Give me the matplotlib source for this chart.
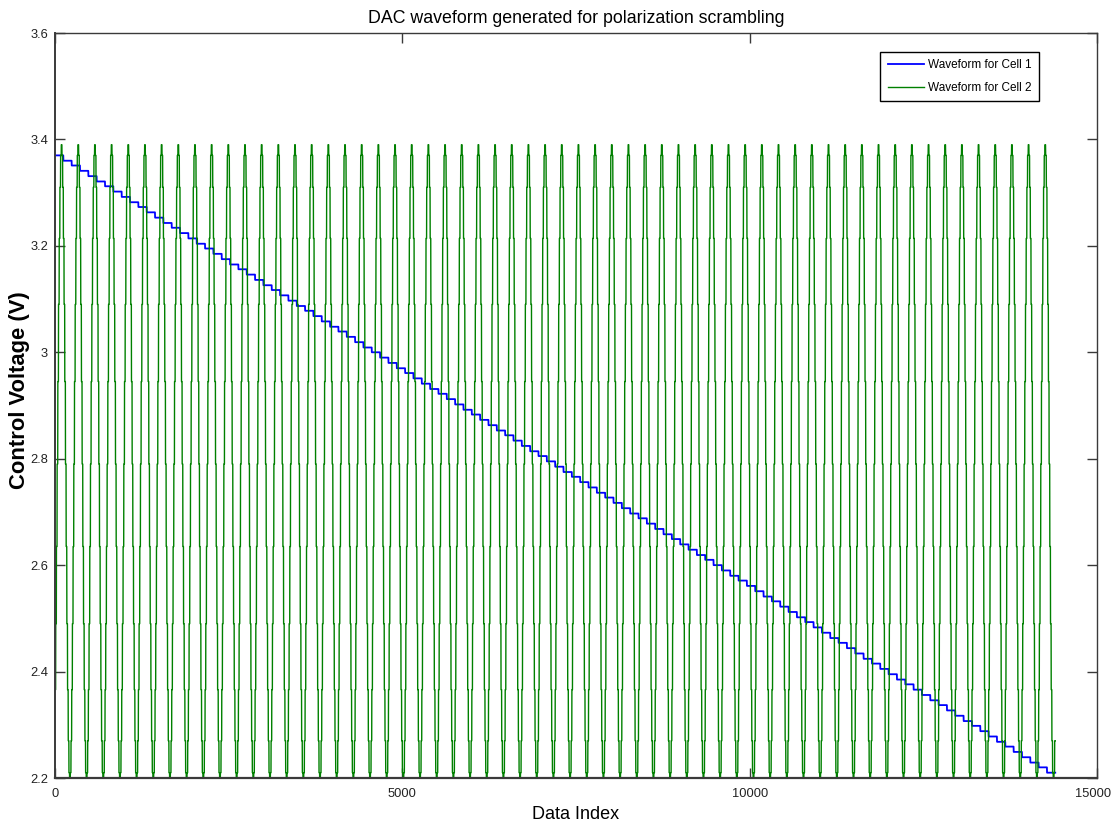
import numpy as np
import matplotlib
matplotlib.use("Agg")
import matplotlib.pyplot as plt
from matplotlib.ticker import FuncFormatter

# ---------------- data ----------------
# Cell 1: descending DAC staircase, one level per block of samples
cell1_levels = [
    3.370, 3.360, 3.351, 3.341, 3.331, 3.321, 3.312, 3.302, 3.292, 3.282,
    3.273, 3.263, 3.253, 3.243, 3.234, 3.224, 3.214, 3.204, 3.195, 3.185,
    3.175, 3.165, 3.156, 3.146, 3.136, 3.126, 3.117, 3.107, 3.097, 3.087,
    3.078, 3.068, 3.058, 3.048, 3.039, 3.029, 3.019, 3.009, 3.000, 2.990,
    2.980, 2.970, 2.961, 2.951, 2.941, 2.931, 2.922, 2.912, 2.902, 2.892,
    2.883, 2.873, 2.863, 2.853, 2.844, 2.834, 2.824, 2.814, 2.805, 2.795,
    2.785, 2.775, 2.766, 2.756, 2.746, 2.736, 2.727, 2.717, 2.707, 2.697,
    2.688, 2.678, 2.668, 2.658, 2.649, 2.639, 2.629, 2.619, 2.610, 2.600,
    2.590, 2.580, 2.571, 2.561, 2.551, 2.541, 2.532, 2.522, 2.512, 2.502,
    2.493, 2.483, 2.473, 2.463, 2.454, 2.444, 2.434, 2.424, 2.415, 2.405,
    2.395, 2.385, 2.376, 2.366, 2.356, 2.346, 2.337, 2.327, 2.317, 2.307,
    2.298, 2.288, 2.278, 2.268, 2.259, 2.249, 2.239, 2.229, 2.220, 2.210,
]
cell1_samples_per_level = 120

# Cell 2: one period of the repeating DAC waveform (levels), repeated
cell2_period_levels = [
    2.366, 2.490, 2.635, 2.790, 2.945, 3.090, 3.214, 3.310, 3.370, 3.390,
    3.370, 3.310, 3.214, 3.090, 2.945, 2.790, 2.635, 2.490, 2.366, 2.270,
    2.210, 2.190, 2.210, 2.270,
]
cell2_samples_per_level = 10
cell2_periods = 60

series_labels = ["Waveform for Cell 1", "Waveform for Cell 2"]
title_text = "DAC waveform generated for polarization scrambling"
xlabel_text = "Data Index"
ylabel_text = "Control Voltage (V)"
xticks = [0, 5000, 10000, 15000]
yticks = [2.2, 2.4, 2.6, 2.8, 3.0, 3.2, 3.4, 3.6]

# ---------------- build series ----------------
y1 = np.repeat(np.array(cell1_levels), cell1_samples_per_level)
x1 = np.arange(len(y1))
y2 = np.tile(np.repeat(np.array(cell2_period_levels), cell2_samples_per_level), cell2_periods)
x2 = np.arange(len(y2))

# ---------------- fonts ----------------
plt.rcParams["font.family"] = ["Liberation Sans", "DejaVu Sans"]
tick_size = 9.3

# ---------------- figure ----------------
W, H = 1113, 830
fig = plt.figure(figsize=(W / 100, H / 100), dpi=100)
ax = fig.add_axes([55 / W, 1 - 778 / H, (1097 - 55) / W, (778 - 33) / H])

ax.plot(x1, y1, color=(0, 0, 1), lw=1.3, label=series_labels[0])
ax.plot(x2, y2, color=(0, 0.5, 0), lw=1.0, label=series_labels[1])

ax.set_xlim(0, 15000)
ax.set_ylim(2.2, 3.6)
ax.set_xticks(xticks)
ax.set_yticks(yticks)
fmt = FuncFormatter(lambda v, p: "%g" % round(v, 6))
ax.yaxis.set_major_formatter(fmt)
# last x label is drawn separately, pushed against the figure edge so it stays visible
ax.xaxis.set_major_formatter(FuncFormatter(lambda v, p: "" if v >= xticks[-1] else "%g" % v))

spine_col = "#3a3a3a"
for s in ax.spines.values():
    s.set_color(spine_col)
    s.set_linewidth(1.0)
ax.spines["bottom"].set_linewidth(1.6)
ax.spines["left"].set_linewidth(1.4)

ax.tick_params(axis="both", which="major", direction="in", length=7.5, width=1.0,
               color=spine_col, top=True, right=True, labelsize=tick_size,
               labelcolor="#222222")
ax.tick_params(axis="x", pad=7)
ax.tick_params(axis="y", pad=5)

fig.text(1111 / W, 1 - 788 / H, "%g" % xticks[-1], ha="right", va="top",
         fontsize=tick_size, color="#222222")

ax.set_title(title_text, fontsize=12.8, pad=7)
ax.set_xlabel(xlabel_text, fontsize=13)
ax.set_ylabel(ylabel_text, fontsize=15.8, fontweight="bold")
ax.xaxis.set_label_coords(0.5, -0.037)
ax.xaxis.label.set_va("top")
ax.yaxis.set_label_coords(-0.024, 0.52)

leg = ax.legend(loc="upper right", bbox_to_anchor=((1039 - 55) / 1042, (778 - 52) / 745),
                fancybox=False, shadow=False, framealpha=1, edgecolor="black",
                prop={"size": 8.5}, handlelength=3.1,
                labelspacing=0.9, borderpad=0.6, handletextpad=0.35, borderaxespad=0)
leg.get_frame().set_linewidth(1.0)

fig.savefig("out.png", dpi=100)
